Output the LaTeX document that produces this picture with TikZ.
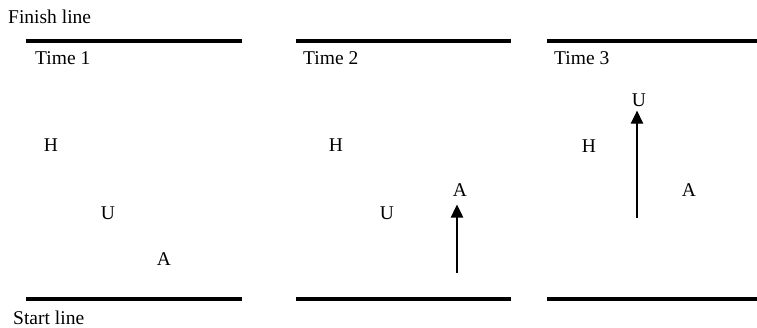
\documentclass[tikz,border=0pt]{standalone}
\usepackage{fontspec}
\setmainfont{Liberation Serif}
\usetikzlibrary{arrows.meta}
\begin{document}
\begin{tikzpicture}[x=1pt,y=-1pt,
  lbl/.style={inner sep=0pt,anchor=base west,font=\fontsize{19.5}{22}\selectfont},
  ltr/.style={inner sep=0pt,anchor=center,font=\fontsize{19.5}{22}\selectfont},
  bar/.style={line width=3.3pt},
  arr/.style={line width=1.3pt,-{Triangle[length=13pt,width=12.5pt]}}]
\useasboundingbox (0,0) rectangle (757,328);
% labels
\node[lbl] (finish) at (8,24) {Finish line};
\node[lbl] (start) at (13,325) {Start line};
\node[lbl] (time1) at (35,65) {Time 1};
\node[lbl] (time2) at (303,65) {Time 2};
\node[lbl] (time3) at (554,65) {Time 3};
% lines
\coordinate (f1a) at (26,41); \coordinate (f1b) at (242,41);
\coordinate (f2a) at (296,41); \coordinate (f2b) at (511,41);
\coordinate (f3a) at (547,41); \coordinate (f3b) at (757,41);
\coordinate (s1a) at (26,299); \coordinate (s1b) at (242,299);
\coordinate (s2a) at (296,299); \coordinate (s2b) at (511,299);
\coordinate (s3a) at (547,299); \coordinate (s3b) at (757,299);
\draw[bar] (f1a) -- (f1b);
\draw[bar] (f2a) -- (f2b);
\draw[bar] (f3a) -- (f3b);
\draw[bar] (s1a) -- (s1b);
\draw[bar] (s2a) -- (s2b);
\draw[bar] (s3a) -- (s3b);
% panel 1
\node[ltr] (H1) at (51,145) {H};
\node[ltr] (U1) at (108,213) {U};
\node[ltr] (A1) at (164,259) {A};
% panel 2
\node[ltr] (H2) at (336,145) {H};
\node[ltr] (U2) at (387,213) {U};
\node[ltr] (A2) at (460,190) {A};
\coordinate (t2) at (457,273);
\draw[arr,shorten >=8pt] (t2) -- (t2 |- A2.south);
% panel 3
\node[ltr] (H3) at (589,146) {H};
\node[ltr] (U3) at (639,100) {U};
\node[ltr] (A3) at (689,190) {A};
\coordinate (t3) at (637,218);
\draw[arr,shorten >=4pt] (t3) -- (t3 |- U3.south);
\end{tikzpicture}
\end{document}
